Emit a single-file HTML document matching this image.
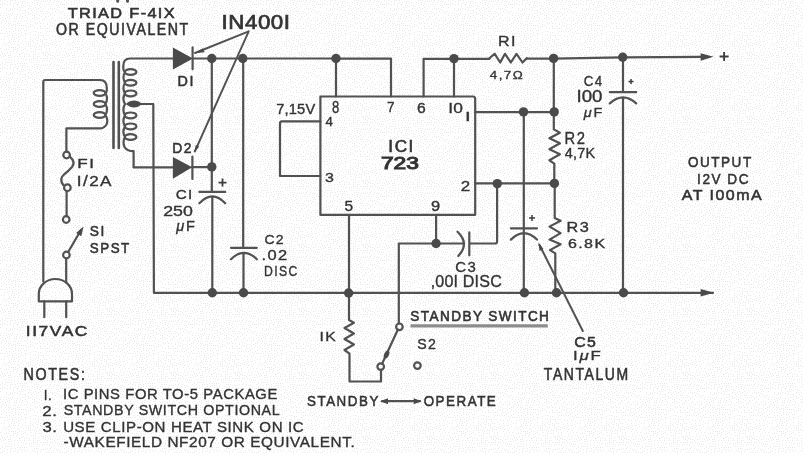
<!DOCTYPE html>
<html><head><meta charset="utf-8">
<style>
html,body{margin:0;padding:0;background:#fafafa;}
svg{display:block;filter:grayscale(1);}
text{font-family:"Liberation Sans",sans-serif;fill:#333;stroke:#333;}
</style></head><body>
<svg width="803" height="453" viewBox="0 0 803 453">
<defs><pattern id="bg" width="64" height="64" patternUnits="userSpaceOnUse"><rect width="64" height="64" fill="#ffffff"/><path fill="#e8e8e8" d="M0 0h1v1h-1zM0 4h1v1h-1zM0 7h1v1h-1zM0 13h1v1h-1zM0 15h1v1h-1zM0 18h1v1h-1zM0 33h1v1h-1zM0 48h1v1h-1zM0 55h1v1h-1zM1 21h1v1h-1zM1 23h1v1h-1zM1 27h1v1h-1zM1 30h1v1h-1zM1 39h1v1h-1zM1 51h1v1h-1zM1 57h1v1h-1zM1 61h1v1h-1zM2 2h1v1h-1zM2 4h1v1h-1zM2 17h1v1h-1zM2 33h1v1h-1zM2 46h1v1h-1zM2 53h1v1h-1zM2 63h1v1h-1zM3 15h1v1h-1zM3 19h1v1h-1zM3 25h1v1h-1zM3 29h1v1h-1zM3 42h1v1h-1zM3 56h1v1h-1zM3 59h1v1h-1zM4 0h1v1h-1zM4 3h1v1h-1zM4 12h1v1h-1zM4 21h1v1h-1zM4 27h1v1h-1zM4 33h1v1h-1zM4 36h1v1h-1zM4 39h1v1h-1zM4 44h1v1h-1zM4 49h1v1h-1zM4 53h1v1h-1zM5 18h1v1h-1zM5 23h1v1h-1zM5 55h1v1h-1zM5 62h1v1h-1zM6 8h1v1h-1zM6 10h1v1h-1zM6 13h1v1h-1zM6 15h1v1h-1zM6 20h1v1h-1zM6 25h1v1h-1zM6 28h1v1h-1zM6 31h1v1h-1zM6 43h1v1h-1zM6 45h1v1h-1zM6 49h1v1h-1zM6 59h1v1h-1zM7 1h1v1h-1zM7 4h1v1h-1zM7 17h1v1h-1zM7 33h1v1h-1zM7 36h1v1h-1zM7 52h1v1h-1zM7 62h1v1h-1zM8 10h1v1h-1zM8 14h1v1h-1zM8 21h1v1h-1zM8 23h1v1h-1zM8 25h1v1h-1zM8 38h1v1h-1zM8 42h1v1h-1zM8 45h1v1h-1zM8 49h1v1h-1zM8 55h1v1h-1zM8 59h1v1h-1zM9 16h1v1h-1zM9 18h1v1h-1zM9 28h1v1h-1zM9 31h1v1h-1zM9 35h1v1h-1zM9 40h1v1h-1zM9 47h1v1h-1zM9 57h1v1h-1zM9 62h1v1h-1zM10 0h1v1h-1zM10 2h1v1h-1zM10 4h1v1h-1zM10 8h1v1h-1zM10 10h1v1h-1zM10 13h1v1h-1zM10 23h1v1h-1zM10 42h1v1h-1zM10 51h1v1h-1zM10 53h1v1h-1zM10 55h1v1h-1zM11 15h1v1h-1zM11 25h1v1h-1zM11 29h1v1h-1zM11 33h1v1h-1zM11 39h1v1h-1zM11 44h1v1h-1zM11 47h1v1h-1zM11 57h1v1h-1zM11 60h1v1h-1zM11 62h1v1h-1zM12 0h1v1h-1zM12 9h1v1h-1zM12 13h1v1h-1zM12 27h1v1h-1zM12 35h1v1h-1zM12 37h1v1h-1zM13 3h1v1h-1zM13 6h1v1h-1zM13 11h1v1h-1zM13 21h1v1h-1zM13 24h1v1h-1zM13 31h1v1h-1zM13 33h1v1h-1zM13 41h1v1h-1zM13 47h1v1h-1zM13 49h1v1h-1zM13 51h1v1h-1zM14 8h1v1h-1zM14 17h1v1h-1zM14 19h1v1h-1zM14 35h1v1h-1zM14 37h1v1h-1zM14 39h1v1h-1zM14 43h1v1h-1zM14 56h1v1h-1zM14 59h1v1h-1zM14 61h1v1h-1zM15 0h1v1h-1zM15 2h1v1h-1zM15 21h1v1h-1zM15 24h1v1h-1zM15 26h1v1h-1zM15 28h1v1h-1zM15 30h1v1h-1zM15 33h1v1h-1zM15 41h1v1h-1zM15 47h1v1h-1zM15 49h1v1h-1zM16 16h1v1h-1zM16 18h1v1h-1zM16 35h1v1h-1zM16 38h1v1h-1zM16 52h1v1h-1zM17 4h1v1h-1zM17 9h1v1h-1zM17 14h1v1h-1zM17 23h1v1h-1zM17 25h1v1h-1zM17 45h1v1h-1zM17 48h1v1h-1zM17 50h1v1h-1zM17 56h1v1h-1zM17 63h1v1h-1zM18 2h1v1h-1zM18 21h1v1h-1zM18 28h1v1h-1zM18 30h1v1h-1zM18 33h1v1h-1zM18 37h1v1h-1zM18 41h1v1h-1zM18 58h1v1h-1zM18 61h1v1h-1zM19 7h1v1h-1zM19 11h1v1h-1zM19 17h1v1h-1zM19 23h1v1h-1zM19 25h1v1h-1zM19 39h1v1h-1zM19 45h1v1h-1zM19 47h1v1h-1zM19 54h1v1h-1zM20 1h1v1h-1zM20 9h1v1h-1zM20 14h1v1h-1zM20 30h1v1h-1zM20 36h1v1h-1zM20 56h1v1h-1zM20 63h1v1h-1zM21 5h1v1h-1zM21 18h1v1h-1zM21 21h1v1h-1zM21 25h1v1h-1zM21 28h1v1h-1zM21 32h1v1h-1zM21 34h1v1h-1zM21 43h1v1h-1zM21 50h1v1h-1zM21 53h1v1h-1zM21 58h1v1h-1zM21 61h1v1h-1zM22 1h1v1h-1zM22 3h1v1h-1zM22 7h1v1h-1zM22 10h1v1h-1zM22 16h1v1h-1zM22 41h1v1h-1zM22 47h1v1h-1zM22 63h1v1h-1zM23 5h1v1h-1zM23 13h1v1h-1zM23 25h1v1h-1zM23 28h1v1h-1zM23 35h1v1h-1zM23 44h1v1h-1zM23 49h1v1h-1zM23 52h1v1h-1zM23 59h1v1h-1zM24 1h1v1h-1zM24 10h1v1h-1zM24 20h1v1h-1zM24 30h1v1h-1zM24 54h1v1h-1zM24 56h1v1h-1zM24 63h1v1h-1zM25 3h1v1h-1zM25 6h1v1h-1zM25 12h1v1h-1zM25 15h1v1h-1zM25 17h1v1h-1zM25 25h1v1h-1zM25 33h1v1h-1zM25 35h1v1h-1zM25 38h1v1h-1zM25 41h1v1h-1zM25 46h1v1h-1zM25 48h1v1h-1zM25 60h1v1h-1zM26 21h1v1h-1zM26 27h1v1h-1zM26 30h1v1h-1zM26 43h1v1h-1zM26 53h1v1h-1zM26 58h1v1h-1zM26 63h1v1h-1zM27 2h1v1h-1zM27 5h1v1h-1zM27 17h1v1h-1zM27 19h1v1h-1zM27 23h1v1h-1zM27 33h1v1h-1zM27 50h1v1h-1zM28 8h1v1h-1zM28 12h1v1h-1zM28 14h1v1h-1zM28 26h1v1h-1zM28 28h1v1h-1zM28 42h1v1h-1zM28 44h1v1h-1zM28 46h1v1h-1zM28 56h1v1h-1zM29 6h1v1h-1zM29 34h1v1h-1zM29 54h1v1h-1zM29 59h1v1h-1zM29 61h1v1h-1zM30 4h1v1h-1zM30 8h1v1h-1zM30 13h1v1h-1zM30 20h1v1h-1zM30 22h1v1h-1zM30 24h1v1h-1zM30 26h1v1h-1zM30 32h1v1h-1zM30 37h1v1h-1zM30 39h1v1h-1zM30 41h1v1h-1zM30 44h1v1h-1zM30 46h1v1h-1zM30 56h1v1h-1zM31 6h1v1h-1zM31 10h1v1h-1zM31 48h1v1h-1zM31 51h1v1h-1zM31 59h1v1h-1zM31 62h1v1h-1zM32 2h1v1h-1zM32 12h1v1h-1zM32 15h1v1h-1zM32 18h1v1h-1zM32 25h1v1h-1zM32 40h1v1h-1zM32 45h1v1h-1zM33 8h1v1h-1zM33 22h1v1h-1zM33 31h1v1h-1zM33 35h1v1h-1zM33 38h1v1h-1zM33 42h1v1h-1zM33 51h1v1h-1zM33 54h1v1h-1zM33 56h1v1h-1zM33 58h1v1h-1zM33 62h1v1h-1zM34 0h1v1h-1zM34 3h1v1h-1zM34 10h1v1h-1zM34 13h1v1h-1zM34 15h1v1h-1zM34 17h1v1h-1zM34 19h1v1h-1zM34 27h1v1h-1zM34 46h1v1h-1zM34 60h1v1h-1zM35 7h1v1h-1zM35 23h1v1h-1zM35 31h1v1h-1zM35 35h1v1h-1zM35 39h1v1h-1zM35 44h1v1h-1zM35 49h1v1h-1zM35 52h1v1h-1zM35 54h1v1h-1zM35 58h1v1h-1zM36 0h1v1h-1zM36 9h1v1h-1zM36 14h1v1h-1zM36 17h1v1h-1zM36 37h1v1h-1zM36 47h1v1h-1zM36 62h1v1h-1zM37 2h1v1h-1zM37 4h1v1h-1zM37 11h1v1h-1zM37 19h1v1h-1zM37 23h1v1h-1zM37 28h1v1h-1zM37 40h1v1h-1zM37 43h1v1h-1zM37 56h1v1h-1zM37 58h1v1h-1zM37 60h1v1h-1zM38 0h1v1h-1zM38 8h1v1h-1zM38 32h1v1h-1zM38 34h1v1h-1zM38 36h1v1h-1zM38 38h1v1h-1zM38 53h1v1h-1zM39 5h1v1h-1zM39 15h1v1h-1zM39 18h1v1h-1zM39 21h1v1h-1zM39 45h1v1h-1zM39 49h1v1h-1zM39 56h1v1h-1zM39 61h1v1h-1zM40 3h1v1h-1zM40 7h1v1h-1zM40 11h1v1h-1zM40 23h1v1h-1zM40 26h1v1h-1zM40 28h1v1h-1zM40 32h1v1h-1zM40 39h1v1h-1zM40 41h1v1h-1zM40 58h1v1h-1zM41 1h1v1h-1zM41 9h1v1h-1zM41 13h1v1h-1zM41 16h1v1h-1zM41 35h1v1h-1zM41 46h1v1h-1zM41 49h1v1h-1zM41 52h1v1h-1zM42 5h1v1h-1zM42 11h1v1h-1zM42 19h1v1h-1zM42 21h1v1h-1zM42 28h1v1h-1zM42 40h1v1h-1zM42 42h1v1h-1zM42 44h1v1h-1zM42 61h1v1h-1zM43 1h1v1h-1zM43 8h1v1h-1zM43 14h1v1h-1zM43 23h1v1h-1zM43 35h1v1h-1zM43 37h1v1h-1zM43 52h1v1h-1zM43 54h1v1h-1zM43 58h1v1h-1zM44 18h1v1h-1zM44 20h1v1h-1zM44 26h1v1h-1zM44 39h1v1h-1zM44 43h1v1h-1zM44 45h1v1h-1zM44 47h1v1h-1zM44 60h1v1h-1zM45 1h1v1h-1zM45 6h1v1h-1zM45 13h1v1h-1zM45 16h1v1h-1zM45 28h1v1h-1zM45 30h1v1h-1zM45 33h1v1h-1zM45 51h1v1h-1zM45 53h1v1h-1zM45 55h1v1h-1zM45 58h1v1h-1zM46 4h1v1h-1zM46 18h1v1h-1zM46 35h1v1h-1zM46 39h1v1h-1zM46 42h1v1h-1zM46 45h1v1h-1zM46 48h1v1h-1zM47 0h1v1h-1zM47 11h1v1h-1zM47 13h1v1h-1zM47 22h1v1h-1zM47 24h1v1h-1zM47 28h1v1h-1zM47 31h1v1h-1zM47 52h1v1h-1zM47 56h1v1h-1zM47 58h1v1h-1zM47 60h1v1h-1zM48 4h1v1h-1zM48 9h1v1h-1zM48 16h1v1h-1zM48 35h1v1h-1zM48 43h1v1h-1zM48 45h1v1h-1zM48 54h1v1h-1zM49 2h1v1h-1zM49 6h1v1h-1zM49 12h1v1h-1zM49 20h1v1h-1zM49 27h1v1h-1zM49 29h1v1h-1zM49 31h1v1h-1zM49 38h1v1h-1zM49 48h1v1h-1zM49 51h1v1h-1zM49 60h1v1h-1zM50 0h1v1h-1zM50 8h1v1h-1zM50 14h1v1h-1zM50 22h1v1h-1zM50 25h1v1h-1zM50 43h1v1h-1zM50 53h1v1h-1zM50 55h1v1h-1zM50 58h1v1h-1zM51 4h1v1h-1zM51 18h1v1h-1zM51 31h1v1h-1zM51 40h1v1h-1zM51 62h1v1h-1zM52 8h1v1h-1zM52 10h1v1h-1zM52 13h1v1h-1zM52 23h1v1h-1zM52 25h1v1h-1zM52 35h1v1h-1zM52 42h1v1h-1zM52 44h1v1h-1zM52 55h1v1h-1zM52 57h1v1h-1zM52 59h1v1h-1zM53 2h1v1h-1zM53 18h1v1h-1zM53 21h1v1h-1zM53 29h1v1h-1zM53 37h1v1h-1zM53 52h1v1h-1zM54 0h1v1h-1zM54 8h1v1h-1zM54 15h1v1h-1zM54 26h1v1h-1zM54 31h1v1h-1zM54 41h1v1h-1zM54 45h1v1h-1zM54 56h1v1h-1zM54 61h1v1h-1zM55 11h1v1h-1zM55 20h1v1h-1zM55 24h1v1h-1zM55 28h1v1h-1zM55 36h1v1h-1zM55 39h1v1h-1zM55 43h1v1h-1zM55 47h1v1h-1zM55 54h1v1h-1zM55 58h1v1h-1zM56 1h1v1h-1zM56 5h1v1h-1zM56 9h1v1h-1zM56 31h1v1h-1zM56 41h1v1h-1zM56 45h1v1h-1zM56 50h1v1h-1zM57 3h1v1h-1zM57 7h1v1h-1zM57 13h1v1h-1zM57 18h1v1h-1zM57 24h1v1h-1zM57 28h1v1h-1zM57 33h1v1h-1zM57 52h1v1h-1zM57 55h1v1h-1zM57 59h1v1h-1zM58 1h1v1h-1zM58 5h1v1h-1zM58 10h1v1h-1zM58 30h1v1h-1zM58 49h1v1h-1zM58 61h1v1h-1zM59 7h1v1h-1zM59 12h1v1h-1zM59 17h1v1h-1zM59 20h1v1h-1zM59 22h1v1h-1zM59 26h1v1h-1zM59 36h1v1h-1zM59 41h1v1h-1zM59 44h1v1h-1zM59 53h1v1h-1zM59 55h1v1h-1zM59 59h1v1h-1zM60 2h1v1h-1zM60 4h1v1h-1zM60 28h1v1h-1zM60 32h1v1h-1zM60 38h1v1h-1zM60 46h1v1h-1zM60 51h1v1h-1zM60 62h1v1h-1zM61 11h1v1h-1zM61 13h1v1h-1zM61 18h1v1h-1zM61 20h1v1h-1zM61 24h1v1h-1zM61 35h1v1h-1zM61 44h1v1h-1zM61 48h1v1h-1zM61 60h1v1h-1zM62 4h1v1h-1zM62 27h1v1h-1zM62 33h1v1h-1zM62 40h1v1h-1zM62 54h1v1h-1zM62 57h1v1h-1zM62 62h1v1h-1zM63 11h1v1h-1zM63 23h1v1h-1zM63 25h1v1h-1zM63 31h1v1h-1zM63 37h1v1h-1zM63 42h1v1h-1zM63 51h1v1h-1zM63 60h1v1h-1z"/></pattern></defs>
<rect width="803" height="453" fill="url(#bg)"/>
<g fill="none" stroke="#525252" stroke-width="2.2" stroke-linecap="round" stroke-linejoin="round">
<path d="M117.7 -1V1.2M127.5 -1V1.2" stroke-width="3"/>
<!-- transformer core -->
<path d="M113.5 62V148M118.8 62V148" stroke-width="2.6"/>
<!-- secondary -->
<path d="M173.5 58.5H130Q123.3 58.5 123.3 66V68.5Q123.3 71.2 125 72Q121.8 77.35 125 82.7Q121.8 88.05 125 93.4Q121.8 98.70 125 104Q121.8 109.70 125 115.4Q121.8 120.90 125 126.4Q121.8 131.70 125 137Q122.3 142 124.5 147Q127 151.2 133.6 151.2V167.4H173.5"/>
<ellipse cx="130.6" cy="72" rx="5.8" ry="2.9"/>
<ellipse cx="130.6" cy="82.7" rx="5.8" ry="2.9"/>
<ellipse cx="130.6" cy="93.4" rx="5.8" ry="2.9"/>
<ellipse cx="130.6" cy="115.4" rx="5.8" ry="2.9"/>
<ellipse cx="130.6" cy="126.4" rx="5.8" ry="2.9"/>
<ellipse cx="130.6" cy="137" rx="5.8" ry="2.9"/>
<path d="M134 104H153.3L153.9 292.8H713"/>
<!-- primary -->
<path d="M43.3 281.5V82Q43.3 80 45.3 80H100Q106.8 80 106.8 88V90.5Q106.8 92.3 105.4 93Q108.6 98.50 105.4 104Q108.6 109.50 105.4 115Q108.6 120 106.5 124.5Q104 128.4 100 128.4H66.4V151.6"/>
<ellipse cx="99.6" cy="93" rx="5.9" ry="2.9"/>
<ellipse cx="99.6" cy="104" rx="5.9" ry="2.9"/>
<ellipse cx="99.6" cy="115" rx="5.9" ry="2.9"/>
<!-- fuse -->
<circle cx="66.6" cy="155" r="3.3"/>
<path d="M69.8 156.6Q76 162 72 167Q68 171.5 64 174.5Q58.5 179 63.5 185.2"/>
<circle cx="67.4" cy="187.7" r="3.3"/>
<path d="M66.6 191V216.2"/>
<circle cx="66.2" cy="219.5" r="3.3"/>
<!-- S1 -->
<circle cx="66.4" cy="255" r="3.3"/>
<path d="M68.2 252L81 230"/>
<path d="M66.2 258.3V282.6"/>
<!-- plug -->
<path d="M38.8 301.4V294A16.6 15 0 0 1 72 294V301.4Z"/>
<path d="M44.3 301.4V317.2M66.2 301.4V317.2"/>
<!-- top wire -->
<path d="M193 58.5H336L391 58.6V96.5M336 58.5V96.5M423.6 96.5V58.8H489.6M454 58.8V96.5M526.7 58.6H553L623 57.3L701 56.8"/>
<!-- R1 -->
<path d="M489.6 58L494.7 53.8L500.2 62.5L505 53.8L510.8 62.5L516.5 53.8L522.5 62.5L526.7 58.2"/>
<!-- diode bars -->
<path d="M192.6 47.4V69.2M192.4 156.5V179"/>
<!-- C1 -->
<path d="M211.8 58.5V191.9M199.4 191.9H225.2M199.4 203.2Q212.3 189.5 225.2 203.2M212.3 196.6V292.8"/>
<path d="M192 167.2H211.8"/>
<!-- C2 -->
<path d="M243.2 58.5V247.8M231 247.8H256.8M231 259.2Q243.9 246.5 256.8 259.2M243.5 253.1V292.8"/>
<!-- IC box -->
<path d="M320.4 96.5H473Q475.2 96.5 475.2 99V214.8H320.4Z"/>
<!-- pin 4/3 -->
<path d="M320.4 121.4H282Q280 121.4 280 123.4V176H320.4"/>
<!-- pin1 -->
<path d="M475.2 112.1H554.2M553.8 58.6V129.4L559.9 132.7L549.4 138.2L559.9 143.2L549.4 149.2L559.9 154.2L549.4 160.3L554.3 163.6V183.4M523.8 112.1V292.8"/>
<!-- pin2 -->
<path d="M475.2 183.4H554.4"/>
<path d="M497.1 183.6V241.5Q497.1 243.5 495 243.5H469.5M469.3 232.4V255.3"/>
<path d="M457.5 231.7Q470 243.5 458.3 256M464 243.5H398.8V323.6M436.1 214.8V243.5"/>
<!-- R3 -->
<path d="M554.7 183.4V218L560.6 220.7L549.5 226.6L560.6 233.1L549.5 239.6L560.6 244.2L550 250.1L555.3 253.4V292.8"/>
<!-- C5 -->
<path d="M510.9 228.3H537M510.9 239.6Q524 226.5 537 239.6"/>
<path d="M539.5 245L582.8 331" stroke-width="2"/>
<!-- C4 -->
<path d="M623 57.3V92.2M609.8 92.2H636.2M609.8 103.4Q623 91.5 636.2 103.4M623 97.5V292.8"/>
<!-- pin5 1K -->
<path d="M349 214.8V320L353.9 322.8L344.5 328L353.9 333.5L344.5 339L353.9 344.5L344.5 350L349.5 353.7V381.5H381V369.9"/>
<!-- S2 -->
<circle cx="399.4" cy="326.8" r="3.3"/>
<circle cx="380.7" cy="366.6" r="3.3"/>
<circle cx="417.4" cy="365.6" r="3.3"/>
<path d="M382.2 363.5L397.8 329.8"/>
<!-- underline -->
<path d="M410.5 325.8H547.8" stroke-width="3.2" stroke="#8c8c8c" stroke-linecap="butt"/>
<!-- standby arrow -->
<path d="M382 401.2H420"/>
<!-- IN4001 leaders -->
<path d="M248.7 31.3L195 53M248.7 31.3L194.8 151.5" stroke-width="1.9"/>
</g>
<g fill="#4a4a4a">
<path d="M172.9 47.4L193 58.5L172.9 69.4Z"/>
<path d="M172.9 157L192.2 167.3L172.9 178.8Z"/>
<circle cx="211.8" cy="58.5" r="4.7"/>
<circle cx="242.8" cy="58.5" r="4.7"/>
<circle cx="336" cy="58.5" r="4.7"/>
<circle cx="454" cy="58.6" r="4.7"/>
<circle cx="553.6" cy="58.4" r="4.7"/>
<circle cx="622.7" cy="57.3" r="4.7"/>
<circle cx="211.8" cy="166.9" r="4.7"/>
<circle cx="523.5" cy="111.9" r="4.7"/>
<circle cx="554.2" cy="111.9" r="4.7"/>
<circle cx="497.3" cy="183.6" r="4.7"/>
<circle cx="554.4" cy="183.4" r="4.7"/>
<circle cx="436.1" cy="243.5" r="4.7"/>
<circle cx="212.3" cy="292.8" r="4.7"/>
<circle cx="243.5" cy="292.8" r="4.7"/>
<circle cx="348.6" cy="293" r="4.7"/>
<circle cx="524.4" cy="292.8" r="4.7"/>
<circle cx="556.5" cy="292.8" r="4.7"/>
<circle cx="623.5" cy="292.8" r="4.7"/>
<ellipse cx="386.6" cy="354.5" rx="2.4" ry="4.2" transform="rotate(25 386.6 354.5)"/>
<path d="M125.5 104Q134 97.2 142.5 104Q134 110.8 125.5 104Z"/>
<path d="M700.6 53.2L713.5 56.8L700.6 60.8Z"/>
<path d="M700.6 289L714 292.8L700.6 296.6Z"/>
<path d="M194.5 53.3L203 48.2L204.6 52.2Z"/>
<path d="M194.3 152.4L195.8 145L199.2 146.5Z"/>
<path d="M538.3 242.3L539.5 251L543.5 249Z"/>
<path d="M83.6 226.6L76.1 233.1L81.3 236.3Z"/>
<path d="M380.2 401.2L388 398.2L388 404.2Z"/>
<path d="M421.5 401.2L413.7 398.2L413.7 404.2Z"/>
</g>
<g>
<text id="t0" transform="translate(67.73,17.52) scale(1.1796,1)" font-size="13.827" letter-spacing="1.1532" stroke-width="0.55">TRIAD F-4IX</text>
<text id="t1" transform="translate(56.01,34.66) scale(0.8965,1)" font-size="15.797" letter-spacing="1.7032" stroke-width="0.55">OR EQUIVALENT</text>
<text id="t2" transform="translate(221.42,28.70) scale(1.1495,1)" font-size="19.452" letter-spacing="0.4906" stroke-width="0.65">IN400I</text>
<text id="t3" transform="translate(177.56,86.03) scale(0.9543,1)" font-size="15.047" letter-spacing="1.5925" stroke-width="0.55">DI</text>
<text id="t4" transform="translate(172.26,152.77) scale(0.9137,1)" font-size="15.178" letter-spacing="1.6584" stroke-width="0.55">D2</text>
<text id="t5" transform="translate(175.74,198.82) scale(1.1381,1)" font-size="13.427" letter-spacing="1.1581" stroke-width="0.35">CI</text>
<text id="t6" transform="translate(163.18,215.69) scale(1.2354,1)" font-size="14.371" letter-spacing="0.0000" stroke-width="0.35">250</text>
<text id="t7" transform="translate(176.31,230.87) scale(1.0497,1)" font-size="13.854" letter-spacing="1.5814" stroke-width="0.35"><tspan font-style="italic">μ</tspan>F</text>
<text id="t8" transform="translate(276.32,114.40) scale(1.0422,1)" font-size="14.055" letter-spacing="0.1379" stroke-width="0.35">7,15V</text>
<text id="t9" transform="translate(332.01,112.72) scale(0.7767,1)" font-size="16.797" letter-spacing="0.0000" stroke-width="0.35">8</text>
<text id="t10" transform="translate(386.98,111.69) scale(0.9425,1)" font-size="14.371" letter-spacing="0.0000" stroke-width="0.35">7</text>
<text id="t11" transform="translate(417.07,112.67) scale(1.0477,1)" font-size="14.924" letter-spacing="0.0000" stroke-width="0.35">6</text>
<text id="t12" transform="translate(448.32,112.67) scale(1.1648,1)" font-size="14.924" letter-spacing="0.0000" stroke-width="0.35">I0</text>
<text id="t13" transform="translate(464.97,120.85) scale(1.5338,1)" font-size="13.317" letter-spacing="0.0000" stroke-width="0.35">I</text>
<text id="t14" transform="translate(325.40,125.85) scale(0.9947,1)" font-size="13.317" letter-spacing="0.0000" stroke-width="0.35">4</text>
<text id="t15" transform="translate(325.12,181.85) scale(1.2021,1)" font-size="13.317" letter-spacing="0.0000" stroke-width="0.35">3</text>
<text id="t16" transform="translate(460.86,190.96) scale(1.1644,1)" font-size="14.526" letter-spacing="0.0000" stroke-width="0.35">2</text>
<text id="t17" transform="translate(344.49,210.96) scale(1.0636,1)" font-size="14.526" letter-spacing="0.0000" stroke-width="0.35">5</text>
<text id="t18" transform="translate(430.96,210.96) scale(1.1311,1)" font-size="14.526" letter-spacing="0.0000" stroke-width="0.35">9</text>
<text id="t19" transform="translate(388.29,152.45) scale(1.0725,1)" font-size="15.972" letter-spacing="1.4848" stroke-width="0.6">ICI</text>
<text id="t20" transform="translate(380.92,169.45) scale(1.4561,1)" font-size="15.582" letter-spacing="0.0000" stroke-width="1.0">723</text>
<text id="t21" transform="translate(498.00,46.00) scale(1.1242,1)" font-size="14.244" letter-spacing="1.2250" stroke-width="0.35">RI</text>
<text id="t22" transform="translate(489.76,79.28) scale(1.1331,1)" font-size="11.797" letter-spacing="1.2880" stroke-width="0.35">4,7Ω</text>
<text id="t23" transform="translate(583.70,86.10) scale(0.9355,1)" font-size="14.244" letter-spacing="1.4846" stroke-width="0.35">C4</text>
<text id="t24" transform="translate(576.46,102.47) scale(1.1486,1)" font-size="16.283" letter-spacing="0.0000" stroke-width="0.35">I00</text>
<text id="t25" transform="translate(583.84,117.45) scale(1.0529,1)" font-size="13.702" letter-spacing="1.5967" stroke-width="0.35"><tspan font-style="italic">μ</tspan>F</text>
<text id="t26" transform="translate(564.51,143.75) scale(0.9441,1)" font-size="15.658" letter-spacing="1.6068" stroke-width="0.35">R2</text>
<text id="t27" transform="translate(564.76,158.17) scale(1.0107,1)" font-size="14.281" letter-spacing="0.2021" stroke-width="0.35">4,7K</text>
<text id="t28" transform="translate(566.51,232.39) scale(1.1297,1)" font-size="14.371" letter-spacing="1.2978" stroke-width="0.35">R3</text>
<text id="t29" transform="translate(567.94,248.31) scale(1.1768,1)" font-size="13.625" letter-spacing="1.1913" stroke-width="0.35">6.8K</text>
<text id="t30" transform="translate(688.01,167.24) scale(0.8910,1)" font-size="15.178" letter-spacing="1.7056" stroke-width="0.55">OUTPUT</text>
<text id="t31" transform="translate(697.09,183.91) scale(0.8957,1)" font-size="15.178" letter-spacing="1.6979" stroke-width="0.55">I2V DC</text>
<text id="t32" transform="translate(681.74,200.28) scale(1.0697,1)" font-size="14.947" letter-spacing="1.3703" stroke-width="0.55">AT I00mA</text>
<text id="t33" transform="translate(77.32,168.00) scale(1.3358,1)" font-size="12.791" letter-spacing="1.0851" stroke-width="0.35">FI</text>
<text id="t34" transform="translate(76.86,186.24) scale(1.2127,1)" font-size="14.073" letter-spacing="1.1689" stroke-width="0.35">I/2A</text>
<text id="t35" transform="translate(89.72,235.77) scale(0.9071,1)" font-size="15.178" letter-spacing="1.6328" stroke-width="0.55">SI</text>
<text id="t36" transform="translate(89.79,252.71) scale(0.8811,1)" font-size="15.178" letter-spacing="1.7301" stroke-width="0.55">SPST</text>
<text id="t37" transform="translate(264.39,244.09) scale(1.0331,1)" font-size="13.548" letter-spacing="1.2803" stroke-width="0.35">C2</text>
<text id="t38" transform="translate(261.59,260.40) scale(1.1538,1)" font-size="14.244" letter-spacing="1.2091" stroke-width="0.35">.02</text>
<text id="t39" transform="translate(264.07,275.80) scale(0.8574,1)" font-size="14.244" letter-spacing="1.6026" stroke-width="0.35">DISC</text>
<text id="t40" transform="translate(455.29,271.91) scale(1.0016,1)" font-size="14.924" letter-spacing="1.5431" stroke-width="0.35">C3</text>
<text id="t41" transform="translate(430.64,287.32) scale(0.9702,1)" font-size="16.569" letter-spacing="0.1894" stroke-width="0.35">,00I DISC</text>
<text id="t42" transform="translate(25.76,336.08) scale(1.1518,1)" font-size="15.039" letter-spacing="1.3883" stroke-width="0.55">II7VAC</text>
<text id="t43" transform="translate(23.46,380.07) scale(0.8687,1)" font-size="16.443" letter-spacing="1.9198" stroke-width="0.55">NOTES:</text>
<text id="t44" transform="translate(43.86,399.69) scale(0.8928,1)" font-size="15.000" letter-spacing="0.5572" stroke-width="0.35">I.</text>
<text id="t45" transform="translate(62.92,399.35) scale(0.9869,1)" font-size="15.000" letter-spacing="0.6105" stroke-width="0.35">IC PINS FOR TO-5 PACKAGE</text>
<text id="t46" transform="translate(42.20,415.67) scale(1.1250,1)" font-size="15.000" letter-spacing="0.5107" stroke-width="0.35">2.</text>
<text id="t47" transform="translate(63.63,415.43) scale(0.9519,1)" font-size="15.000" letter-spacing="0.6566" stroke-width="0.35">STANDBY SWITCH OPTIONAL</text>
<text id="t48" transform="translate(42.41,432.10) scale(1.1097,1)" font-size="15.000" letter-spacing="0.4780" stroke-width="0.35">3.</text>
<text id="t49" transform="translate(63.13,431.71) scale(1.0042,1)" font-size="15.000" letter-spacing="0.6166" stroke-width="0.35">USE CLIP-ON HEAT SINK ON IC</text>
<text id="t50" transform="translate(63.62,447.06) scale(1.0227,1)" font-size="15.000" letter-spacing="0.5758" stroke-width="0.35">-WAKEFIELD NF207 OR EQUIVALENT.</text>
<text id="t51" transform="translate(319.55,341.38) scale(1.1793,1)" font-size="13.317" letter-spacing="1.0807" stroke-width="0.35">IK</text>
<text id="t52" transform="translate(410.36,321.48) scale(0.9489,1)" font-size="14.307" letter-spacing="1.4950" stroke-width="0.6">STANDBY SWITCH</text>
<text id="t53" transform="translate(417.24,348.77) scale(0.9743,1)" font-size="14.531" letter-spacing="1.4460" stroke-width="0.35">S2</text>
<text id="t54" transform="translate(307.05,406.15) scale(0.8594,1)" font-size="15.539" letter-spacing="1.7890" stroke-width="0.55">STANDBY</text>
<text id="t55" transform="translate(423.64,406.17) scale(0.8620,1)" font-size="15.539" letter-spacing="1.7669" stroke-width="0.55">OPERATE</text>
<text id="t56" transform="translate(574.22,347.22) scale(1.0580,1)" font-size="14.947" letter-spacing="1.3813" stroke-width="0.55">C5</text>
<text id="t57" transform="translate(573.07,360.19) scale(1.2292,1)" font-size="13.706" letter-spacing="1.4026" stroke-width="0.35">I<tspan font-style="italic">μ</tspan>F</text>
<text id="t58" transform="translate(543.86,380.20) scale(0.8668,1)" font-size="16.122" letter-spacing="1.8098" stroke-width="0.55">TANTALUM</text>
<path d="M218.5 182.6H226.5M222.5 178.6V186.6" stroke="#3c3c3c" stroke-width="1.8" fill="none"/>
<path d="M628.5 81.6H633.5M631.0 79.1V84.1" stroke="#3c3c3c" stroke-width="1.5" fill="none"/>
<path d="M529.0 218.0H535.0M532.0 215.0V221.0" stroke="#3c3c3c" stroke-width="1.5" fill="none"/>
<path d="M719.6 56.5H728.6M724.1 52.0V61.0" stroke="#3c3c3c" stroke-width="1.8" fill="none"/>
</g>
</svg>
</body></html>
